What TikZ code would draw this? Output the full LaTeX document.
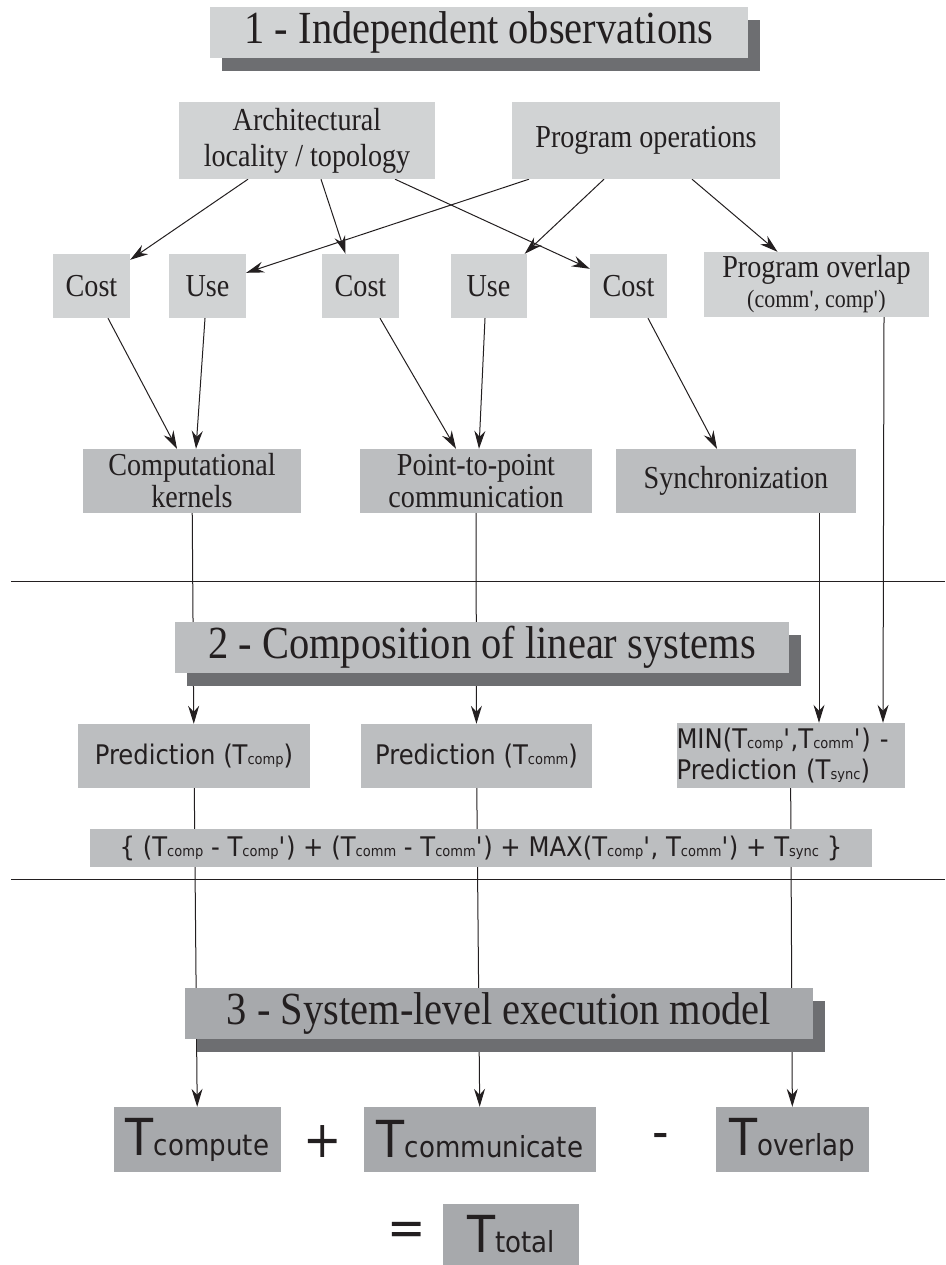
\documentclass[tikz,border=0pt]{standalone}
\usepackage{fontspec}
\setmainfont{Liberation Serif}[FakeStretch=0.88]
\newfontfamily\cond{DejaVu Sans}[FakeStretch=0.9]
\usetikzlibrary{arrows.meta,calc,shadows}
\definecolor{lightgrey}{HTML}{D1D3D4}
\definecolor{midgrey}{HTML}{BCBEC0}
\definecolor{darkgrey}{HTML}{A7A9AC}
\definecolor{shadowgrey}{HTML}{6D6E71}
\definecolor{ink}{HTML}{231F20}
\pgfdeclarelayer{back}
\pgfsetlayers{back,main}
\newcommand{\sml}[1]{{\fontsize{14.5}{16}\selectfont #1}}
\newcommand{\Tbig}[1]{{\fontsize{51}{55}\selectfont T}{\fontsize{29}{32}\selectfont #1}}

\begin{document}
\begin{tikzpicture}[x=1pt,y=-1pt,
		box/.style={inner sep=0pt,align=center,text=ink,font=\fontsize{32}{36}\selectfont},
		light/.style={box,fill=lightgrey},
		mid/.style={box,fill=midgrey},
		dark/.style={box,fill=darkgrey,font=\cond},
		pred/.style={mid,font=\cond\fontsize{27}{31}\selectfont},
		title/.style={inner sep=0pt,text=ink,font=\fontsize{46}{50}\selectfont,minimum height=51pt,
			drop shadow={shadow xshift=12pt,shadow yshift=-13pt,fill=shadowgrey,opacity=1}},
		sign/.style={inner sep=0pt,text=ink,font=\cond\fontsize{51}{55}\selectfont},
		conn/.style={draw=ink,line width=1pt},
		arr/.style={conn,-{Stealth[length=18pt,width=11pt,inset=6pt]}}]
		\useasboundingbox (0,0) rectangle (945,1265);
		\node at (479,32.5) [title,fill=lightgrey,minimum width=538pt] (obs) {1 - Independent observations};
		\node at (307,140.5) [light,minimum width=256pt,minimum height=77pt] (arch) {Architectural\\locality / topology};
		\node at (646,140.5) [light,minimum width=268pt,minimum height=77pt] (progops) {Program operations};
		\node at (91.5,286) [light,minimum width=77pt,minimum height=64pt] (cost1) {Cost};
		\node at (207.5,286) [light,minimum width=77pt,minimum height=64pt] (use1) {Use};
		\node at (360.5,286) [light,minimum width=77pt,minimum height=64pt] (cost2) {Cost};
		\node at (488.5,286) [light,minimum width=76pt,minimum height=64pt] (use2) {Use};
		\node at (628.5,286) [light,minimum width=77pt,minimum height=64pt] (cost3) {Cost};
		\node at (816.5,284.5) [light,minimum width=225pt,minimum height=65pt] (overlap) {Program overlap\\[-6pt]{\fontsize{25}{28}\selectfont (comm\textquotesingle, comp\textquotesingle)}};
		\node at (192,481) [mid,minimum width=218pt,minimum height=64pt] (kern) {Computational\\[-4pt]kernels};
		\node at (476,481) [mid,minimum width=232pt,minimum height=64pt] (p2p) {Point-to-point\\[-4pt]communication};
		\node at (736,481) [mid,minimum width=240pt,minimum height=64pt] (sync) {Synchronization};
		\node at (482,647.5) [title,fill=midgrey,minimum width=614pt] (compo) {2 - Composition of linear systems};
		\node at (194,756) [pred,minimum width=232pt,minimum height=64pt] (predcomp) {Prediction (T\sml{comp})};
		\node at (476.5,756) [pred,minimum width=231pt,minimum height=64pt] (predcomm) {Prediction (T\sml{comm})};
		\node at (790.5,755.5) [pred,align=left,text width=228pt,minimum height=65pt] (minbox) {MIN(T\sml{comp}\textquotesingle,T\sml{comm}\textquotesingle) -\\Prediction (T\sml{sync})};
		\node at (481,848) [pred,minimum width=782pt,minimum height=38pt] (formula) {\{ (T\sml{comp} - T\sml{comp}\textquotesingle) + (T\sml{comm} - T\sml{comm}\textquotesingle) + MAX(T\sml{comp}\textquotesingle, T\sml{comm}\textquotesingle) + T\sml{sync} \}};
		\node at (499,1013.5) [title,fill=darkgrey,minimum width=628pt] (model) {3 - System-level execution model};
		\node at (197.5,1139.5) [dark,minimum width=167pt,minimum height=65pt] (tcompute) {\Tbig{compute}};
		\node at (323,1141) [sign] (plus) {+};
		\node at (480,1139.5) [dark,minimum width=232pt,minimum height=65pt] (tcomm) {\Tbig{communicate}};
		\node at (661,1141) [sign] (minus) {-};
		\node at (792.5,1139.5) [dark,minimum width=153pt,minimum height=65pt] (tover) {\Tbig{overlap}};
		\node at (407,1234) [sign] (equals) {=};
		\node at (511,1234.5) [dark,minimum width=136pt,minimum height=61pt] (ttotal) {\Tbig{total}};
		\begin{pgfonlayer}{back}
		\draw[conn] (11,581) -- (945,581);
		\draw[conn] (11,879) -- (945,879);
		\draw[arr] ($(arch.south)+(-59,0)$) -- ($(cost1.north east)+(0,6)$);
		\draw[arr] ($(arch.south)+(14,0)$) -- ($(cost2.north)+(-15,0)$);
		\draw[arr] ($(arch.south)+(88,0)$) -- ($(cost3.north west)+(0,15)$);
		\draw[arr] ($(progops.south)+(-117,0)$) -- ($(use1.north east)+(0,19)$);
		\draw[arr] ($(progops.south)+(-42,0)$) -- ($(use2.north east)+(-2,0)$);
		\draw[arr] ($(progops.south)+(46,0)$) -- ($(overlap.north)+(-39,0)$);
		\draw[arr] ($(cost1.south)+(16.5,0)$) -- ($(kern.north)+(-15,0)$);
		\draw[arr] ($(use1.south)+(-2.5,0)$) -- ($(kern.north)+(4,0)$);
		\draw[arr] ($(cost2.south)+(19.5,0)$) -- ($(p2p.north)+(-20,0)$);
		\draw[arr] ($(use2.south)+(-3.5,0)$) -- ($(p2p.north)+(3,0)$);
		\draw[arr] ($(cost3.south)+(19.5,0)$) -- ($(sync.north)+(-19,0)$);
		\draw[arr] (kern) -- (predcomp);
		\draw[arr] (predcomp) -- (tcompute);
		\draw[arr] (p2p) -- (predcomm);
		\draw[arr] (predcomm) -- (tcomm);
		\draw[arr] ($(sync.south)+(83,0)$) -- ($(minbox.north)+(28.5,0)$);
		\draw[arr] ($(overlap.south)+(67.5,0)$) -- ($(minbox.north)+(92.5,0)$);
		\draw[arr] (minbox) -- (tover);
		\end{pgfonlayer}
	\end{tikzpicture}
\end{document}
